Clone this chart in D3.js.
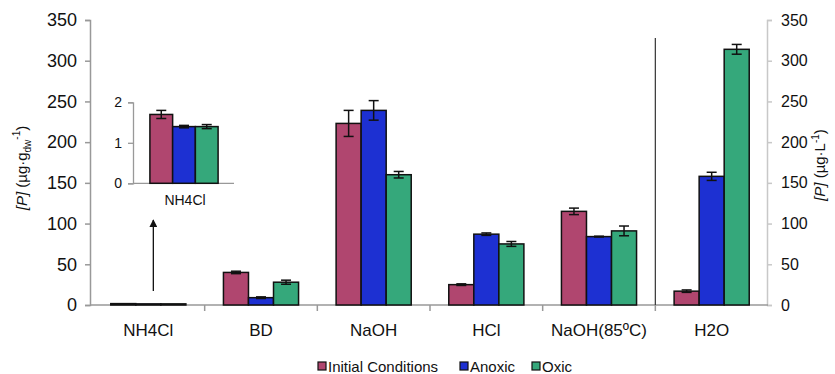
<!DOCTYPE html>
<html>
<head>
<meta charset="utf-8">
<script src="https://cdn.jsdelivr.net/npm/d3@7"></script>
<style>
  body { margin: 0; background: #fff; }
  text { font-family: "Liberation Sans", Arial, sans-serif; fill: #111; }
</style>
</head>
<body>
<div id="chart"></div>
<script>
// data
const categories = ["NH4Cl", "BD", "NaOH", "HCl", "NaOH(85ºC)", "H2O"];
const seriesNames = ["Initial Conditions", "Anoxic", "Oxic"];
const seriesColors = ["#b0466f", "#1d30d2", "#35a87b"];

const initialVals = [1.7, 40, 223, 25, 115, 17];
const initialErr  = [0.1, 1.5, 16, 1, 4, 1.5];
const anoxicVals  = [1.4, 9, 239, 87, 84, 158];
const anoxicErr   = [0.03, 1, 12, 1.5, 0.5, 5];
const oxicVals    = [1.4, 28, 160, 75, 91, 314];
const oxicErr     = [0.05, 2.5, 4, 3, 6, 6];

const yTicks = [0, 50, 100, 150, 200, 250, 300, 350];
const insetTicks = [0, 1, 2];

const width = 835, height = 374;
const svg = d3.select("#chart").append("svg")
    .attr("width", width)
    .attr("height", height);

const plot = {left: 92, right: 768, top: 20, bottom: 305};

const x0 = d3.scaleBand().domain(categories).range([plot.left, plot.right]);
const x1 = d3.scaleBand().domain(seriesNames).range([0, x0.bandwidth()]).paddingOuter(0.75);
const y = d3.scaleLinear().domain([0, 350]).range([plot.bottom, plot.top]);

const vals = [initialVals, anoxicVals, oxicVals];
const errs = [initialErr, anoxicErr, oxicErr];
const rows = [];
categories.forEach((c, i) => {
    seriesNames.forEach((s, j) => {
        rows.push({cat: c, series: s, color: seriesColors[j], v: vals[j][i], e: errs[j][i]});
    });
});

// left axis
const leftAxis = svg.append("g")
    .attr("transform", `translate(${plot.left - 2},0)`)
    .call(d3.axisLeft(y).tickValues(yTicks).tickSize(5).tickPadding(8));
leftAxis.selectAll("path, line").attr("stroke", "#999").attr("stroke-width", 1.5);
leftAxis.selectAll("text").style("font-size", "18px").attr("fill", "#111");

// right axis
const rightAxis = svg.append("g")
    .attr("transform", `translate(${plot.right - 1},0)`)
    .call(d3.axisRight(y).tickValues(yTicks).tickSize(5).tickPadding(9));
rightAxis.selectAll("path, line").attr("stroke", "#c8c8c8").attr("stroke-width", 1.5);
rightAxis.selectAll("text").style("font-size", "16px").attr("fill", "#111");

// x axis with category ticks between groups
const xAxis = svg.append("g");
xAxis.append("line")
    .attr("x1", plot.left - 2).attr("x2", plot.right)
    .attr("y1", y(0)).attr("y2", y(0))
    .attr("stroke", "#999").attr("stroke-width", 1.5);
xAxis.selectAll(".sep")
    .data(categories.slice(1))
    .enter().append("line")
    .attr("x1", d => x0(d)).attr("x2", d => x0(d))
    .attr("y1", y(0)).attr("y2", y(0) + 6)
    .attr("stroke", "#999").attr("stroke-width", 1.5);
xAxis.selectAll(".cat")
    .data(categories)
    .enter().append("text")
    .attr("x", d => x0(d) + x0.bandwidth() / 2)
    .attr("y", y(0) + 31)
    .attr("text-anchor", "middle")
    .style("font-size", "17px")
    .text(d => d);

// divider before H2O
svg.append("line")
    .attr("x1", x0("H2O")).attr("x2", x0("H2O"))
    .attr("y1", 38).attr("y2", y(0))
    .attr("stroke", "#333").attr("stroke-width", 1.2);

// bars
svg.append("g").selectAll("rect")
    .data(rows)
    .enter().append("rect")
    .attr("x", d => x0(d.cat) + x1(d.series))
    .attr("y", d => y(d.v))
    .attr("width", x1.bandwidth())
    .attr("height", d => y(0) - y(d.v))
    .attr("fill", d => d.color)
    .attr("stroke", "#111")
    .attr("stroke-width", 1.5);

function drawErrors(g, data, xf, bw, yf, cap) {
    const eb = g.append("g").selectAll("g")
        .data(data)
        .enter().append("g")
        .attr("stroke", "#111")
        .attr("stroke-width", 1.5);
    eb.append("line")
        .attr("x1", d => xf(d) + bw / 2).attr("x2", d => xf(d) + bw / 2)
        .attr("y1", d => yf(d.v + d.e)).attr("y2", d => yf(d.v - d.e));
    eb.append("line")
        .attr("x1", d => xf(d) + bw / 2 - cap).attr("x2", d => xf(d) + bw / 2 + cap)
        .attr("y1", d => yf(d.v + d.e)).attr("y2", d => yf(d.v + d.e));
    eb.append("line")
        .attr("x1", d => xf(d) + bw / 2 - cap).attr("x2", d => xf(d) + bw / 2 + cap)
        .attr("y1", d => yf(d.v - d.e)).attr("y2", d => yf(d.v - d.e));
}
drawErrors(svg, rows.filter(d => d.cat !== "NH4Cl"),
    d => x0(d.cat) + x1(d.series), x1.bandwidth(), y, 5);

// inset for NH4Cl
const insetRows = rows.filter(d => d.cat === "NH4Cl");
const ix = d3.scaleBand().domain(seriesNames).range([134, 234]).paddingOuter(0.7);
const iy = d3.scaleLinear().domain([0, 2]).range([183.3, 102.3]);

const inset = svg.append("g");
const insetAxis = inset.append("g")
    .attr("transform", "translate(133,0)")
    .call(d3.axisLeft(iy).tickValues(insetTicks).tickFormat(d3.format("d")).tickSize(5).tickPadding(6));
insetAxis.selectAll("path, line").attr("stroke", "#999").attr("stroke-width", 1.3);
insetAxis.selectAll("text").style("font-size", "14px").attr("fill", "#111");
inset.append("line")
    .attr("x1", 133).attr("x2", 234)
    .attr("y1", iy(0)).attr("y2", iy(0))
    .attr("stroke", "#999").attr("stroke-width", 1.3);
inset.selectAll("rect")
    .data(insetRows)
    .enter().append("rect")
    .attr("x", d => ix(d.series))
    .attr("y", d => iy(d.v))
    .attr("width", ix.bandwidth())
    .attr("height", d => iy(0) - iy(d.v))
    .attr("fill", d => d.color)
    .attr("stroke", "#111")
    .attr("stroke-width", 1.5);
drawErrors(inset, insetRows, d => ix(d.series), ix.bandwidth(), iy, 5);
inset.append("text")
    .attr("x", (ix.range()[0] + ix.range()[1]) / 2 + 1)
    .attr("y", 205)
    .attr("text-anchor", "middle")
    .style("font-size", "14px")
    .text("NH4Cl");

// arrow from the tiny bars up to the inset
svg.append("defs").append("marker")
    .attr("id", "arrow")
    .attr("viewBox", "0 0 10 10")
    .attr("refX", 9).attr("refY", 5)
    .attr("markerWidth", 6).attr("markerHeight", 6)
    .attr("orient", "auto")
    .append("path")
    .attr("d", "M0,0L10,5L0,10z")
    .attr("fill", "#111");
const arrowX = x0("NH4Cl") + x0.bandwidth() / 2 + 5;
svg.append("line")
    .attr("x1", arrowX).attr("x2", arrowX)
    .attr("y1", y(0) - 14).attr("y2", 220)
    .attr("stroke", "#111").attr("stroke-width", 1.3)
    .attr("marker-end", "url(#arrow)");

// axis titles
function axisTitle(tx, ty, unit, sub, sup) {
    const t = svg.append("text")
        .attr("transform", `translate(${tx},${ty}) rotate(-90)`)
        .attr("text-anchor", "middle")
        .style("font-size", "15px");
    t.append("tspan").style("font-style", "italic").text("[P]");
    t.append("tspan").text(" (µg·" + unit);
    if (sub) t.append("tspan").attr("dy", 4).style("font-size", "10px").text(sub);
    t.append("tspan").attr("dy", sub ? -11 : -6).style("font-size", "10px").text(sup);
    t.append("tspan").attr("dy", sub ? 7 : 6).text(")");
}
axisTitle(27, 168, "g", "dw", "-1");
axisTitle(825, 165, "L", null, "-1");

// legend
const legend = svg.append("g").attr("transform", "translate(318,366)");
const legendX = [0, 142, 214];
seriesNames.forEach((s, i) => {
    const g = legend.append("g").attr("transform", `translate(${legendX[i]},0)`);
    g.append("rect")
        .attr("x", 0).attr("y", -4)
        .attr("width", 8).attr("height", 8)
        .attr("fill", seriesColors[i])
        .attr("stroke", "#111").attr("stroke-width", 1.2);
    g.append("text")
        .attr("x", 10).attr("y", 5.5)
        .style("font-size", "15px")
        .text(s);
});
</script>
</body>
</html>
